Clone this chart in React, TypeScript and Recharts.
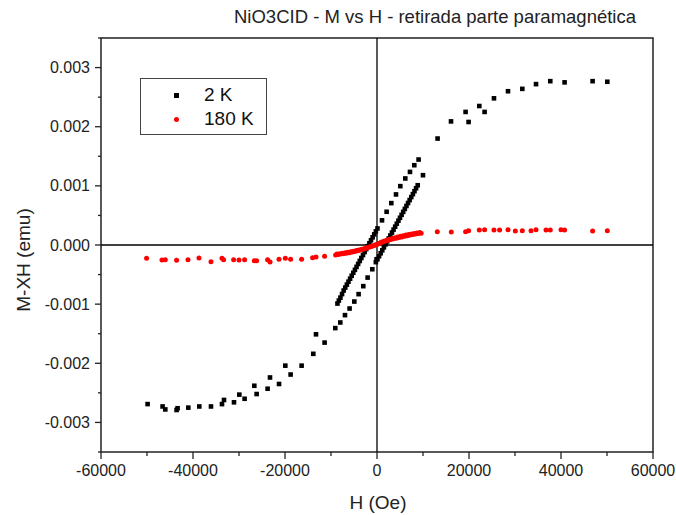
import React from "react";
import {
  ScatterChart,
  Scatter,
  XAxis,
  YAxis,
  ReferenceLine,
  ReferenceArea,
} from "recharts";

const FONT = '"Liberation Sans", Arial, sans-serif';

// tick values
const xTickValues = [-60000, -50000, -40000, -30000, -20000, -10000, 0, 10000, 20000, 30000, 40000, 50000, 60000];
const yTickValues = [-0.0035, -0.003, -0.0025, -0.002, -0.0015, -0.001, -0.0005, 0, 0.0005, 0.001, 0.0015, 0.002, 0.0025, 0.003, 0.0035];

// 2 K as [H (Oe), M (emu)]
const k2OuterPos = [
  [13170, 0.0018], [16090, 0.00209], [19260, 0.00225], [19910, 0.00208], [22240, 0.00235],
  [23390, 0.00225], [25430, 0.00248], [28480, 0.0026], [31590, 0.00264], [34570, 0.00272],
  [37670, 0.00277], [40780, 0.00275], [46870, 0.00277], [50070, 0.00276],
];
const k2UpperSparse = [
  [9040, 0.001445], [8110, 0.001349], [7170, 0.001236], [6150, 0.001125], [5070, 0.000995],
  [4130, 0.000855], [3110, 0.000708], [2090, 0.000562], [1090, 0.000417],
];
const k2UpperDense = [
  [100, 0.00028], [-250, 0.00023], [-600, 0.00018], [-950, 0.00013], [-1300, 0.00008],
  [-1650, 0.00003], [-2000, -0.00002], [-2350, -0.00007], [-2700, -0.00012], [-3050, -0.00017],
  [-3400, -0.00022], [-3750, -0.00027], [-4100, -0.00032], [-4450, -0.00037], [-4800, -0.00042],
  [-5150, -0.00047], [-5500, -0.00052], [-5850, -0.00057], [-6200, -0.00062], [-6550, -0.00067],
  [-6900, -0.00072], [-7250, -0.00077], [-7600, -0.00083], [-7950, -0.00089], [-8300, -0.00094],
  [-8600, -0.00099],
];
const k2OuterNeg = [
  [-11390, -0.00165], [-13260, -0.00151], [-13850, -0.00184], [-16390, -0.00204], [-18780, -0.00219],
  [-19930, -0.00204], [-21300, -0.00235], [-23260, -0.00224], [-23780, -0.00243], [-26170, -0.00252],
  [-26670, -0.00238], [-28780, -0.0026], [-29930, -0.00253], [-31090, -0.00266], [-33260, -0.00262],
  [-33700, -0.00269], [-36090, -0.00273], [-38630, -0.00273], [-41020, -0.00275], [-43350, -0.00276],
  [-43570, -0.00279], [-46020, -0.00278], [-46610, -0.00273], [-49870, -0.00269],
];
const k2LowerSparse = [
  [-9070, -0.001405], [-7980, -0.00131], [-6960, -0.001186], [-5960, -0.001074], [-4930, -0.000956],
  [-4000, -0.000831], [-2980, -0.000696], [-2040, -0.000551], [-1020, -0.00041], [-90, -0.000241],
];
const k2LowerDense = [
  [-250, -0.00029], [100, -0.00024], [450, -0.00019], [800, -0.00014], [1150, -0.00009],
  [1500, -0.00004], [1850, 0.00001], [2200, 0.00006], [2550, 0.00011], [2900, 0.00016],
  [3250, 0.00021], [3600, 0.00026], [3950, 0.00031], [4300, 0.00036], [4650, 0.00041],
  [5000, 0.00046], [5350, 0.00051], [5700, 0.00056], [6050, 0.00061], [6400, 0.00066],
  [6750, 0.00071], [7100, 0.00076], [7450, 0.00081], [7800, 0.00086], [8150, 0.00091],
  [8500, 0.00096], [8850, 0.00101], [10000, 0.00118],
];

// 180 K
const k180OuterNeg = [
  [-50090, -0.000224], [-46740, -0.000253], [-46020, -0.000248], [-43570, -0.000258], [-41090, -0.000248],
  [-38700, -0.000219], [-36090, -0.000282], [-33700, -0.000224], [-33350, -0.000248], [-31170, -0.000248],
  [-30000, -0.000253], [-28780, -0.000248], [-26670, -0.000265], [-26170, -0.000265], [-23780, -0.000248],
  [-23260, -0.000287], [-21300, -0.000241], [-19930, -0.000224], [-18780, -0.000241], [-16390, -0.000241],
  [-14000, -0.000214], [-13260, -0.000202], [-11390, -0.000191],
];
const k180Ascending = [
  [-9000, -0.000168], [-8400, -0.00016], [-7800, -0.000152], [-7200, -0.000146], [-6600, -0.000138],
  [-6000, -0.00013], [-5400, -0.00012], [-4800, -0.000108], [-4200, -0.000096], [-3600, -0.000083],
  [-3000, -0.00007], [-2400, -0.000056], [-1800, -0.00004], [-1200, -0.000024], [-600, -0.000008],
  [0, 0.000008], [600, 0.000028], [1200, 0.000052], [1800, 0.000068], [2400, 0.000082],
  [3000, 0.000095], [3600, 0.000106], [4200, 0.000116], [4800, 0.000126], [5400, 0.000136],
  [6000, 0.000146], [6600, 0.000156], [7200, 0.000168], [7800, 0.000176], [8400, 0.000186],
  [9000, 0.000194], [9600, 0.0002],
];
const k180Descending = [
  [9300, 0.000212], [8700, 0.000204], [8100, 0.000196], [7500, 0.000188], [6900, 0.000178],
  [6300, 0.000168], [5700, 0.000158], [5100, 0.000148], [4500, 0.000136], [3900, 0.000124],
  [3300, 0.00011], [2700, 0.000096], [2100, 0.00008], [1500, 0.000064], [900, 0.000046],
  [300, 0.000026], [-300, 0.000006], [-900, -0.000012], [-1500, -0.000028], [-2100, -0.000044],
  [-2700, -0.000058], [-3300, -0.000072], [-3900, -0.000084], [-4500, -0.000094], [-5100, -0.000104],
  [-5700, -0.000114], [-6300, -0.000122], [-6900, -0.00013], [-7500, -0.000138], [-8100, -0.000146],
  [-8700, -0.000152],
];
const k180OuterPos = [
  [13110, 0.000224], [16150, 0.000219], [19260, 0.000224], [19910, 0.000241], [22240, 0.000253],
  [23390, 0.000258], [25430, 0.000253], [26650, 0.000253], [28480, 0.000258], [30070, 0.000236],
  [31590, 0.000241], [33480, 0.000241], [34570, 0.000258], [36740, 0.000253], [37670, 0.000253],
  [40000, 0.000258], [40780, 0.000253], [46870, 0.000236], [50070, 0.000241],
];

const toPoints = (rows: number[][]) => rows.map(([h, m]) => ({ h, m }));

const data2K = toPoints([
  ...k2OuterPos, ...k2UpperSparse, ...k2UpperDense, ...k2OuterNeg, ...k2LowerSparse, ...k2LowerDense,
]);
const data180K = toPoints([...k180OuterNeg, ...k180Ascending, ...k180Descending, ...k180OuterPos]);

const Square = (props: any) => (
  <rect x={props.cx - 2.3} y={props.cy - 2.3} width={4.6} height={4.6} fill="#000" />
);
const Dot = (props: any) => <circle cx={props.cx} cy={props.cy} r={2.5} fill="#ff0000" />;

const isMajorY = (v: number) => Math.abs(v * 1000 - Math.round(v * 1000)) < 1e-6;

const XTick = (props: any) => {
  const { x, y, payload } = props;
  const major = payload.value % 20000 === 0;
  return (
    <g>
      <line x1={x} y1={y} x2={x} y2={y + (major ? 7 : 4)} stroke="#222" strokeWidth={1.3} />
      {major && (
        <text x={x} y={y + 13} dy="0.71em" textAnchor="middle" fontSize={16} fill="#222" fontFamily={FONT}>
          {payload.value}
        </text>
      )}
    </g>
  );
};

const YTick = (props: any) => {
  const { x, y, payload } = props;
  const major = isMajorY(payload.value);
  return (
    <g>
      <line x1={x} y1={y} x2={x - (major ? 6 : 3)} y2={y} stroke="#222" strokeWidth={1.3} />
      {major && (
        <text x={x - 11} y={y} dy="0.35em" textAnchor="end" fontSize={16} fill="#222" fontFamily={FONT}>
          {payload.value.toFixed(3)}
        </text>
      )}
    </g>
  );
};

export default function App() {
  return (
    <div style={{ position: "absolute", left: 0, top: 0, width: 676, height: 515, background: "#fff", fontFamily: FONT }}>
      <ScatterChart width={676} height={515} margin={{ top: 38, right: 23, bottom: 0, left: 0 }}>
        <XAxis
          type="number"
          dataKey="h"
          domain={[-60000, 60000]}
          ticks={xTickValues}
          interval={0}
          height={63}
          axisLine={false}
          tickLine={false}
          tickSize={0}
          tickMargin={0}
          tick={<XTick />}
          allowDataOverflow
        />
        <YAxis
          type="number"
          dataKey="m"
          domain={[-0.0035, 0.0035]}
          ticks={yTickValues}
          interval={0}
          width={101}
          axisLine={false}
          tickLine={false}
          tickSize={0}
          tickMargin={0}
          tick={<YTick />}
          allowDataOverflow
        />
        <ReferenceArea x1={-60000} x2={60000} y1={-0.0035} y2={0.0035} fill="none" stroke="#222" strokeWidth={1.5} />
        <ReferenceLine x={0} stroke="#000" strokeWidth={1.3} />
        <ReferenceLine y={0} stroke="#000" strokeWidth={1.3} />
        <Scatter name="2 K" data={data2K} shape={<Square />} isAnimationActive={false} />
        <Scatter name="180 K" data={data180K} shape={<Dot />} isAnimationActive={false} />
      </ScatterChart>

      <div style={{ position: "absolute", left: 435, top: 6, transform: "translateX(-50%)", whiteSpace: "nowrap", fontSize: 18.5, color: "#222" }}>
        NiO3CID - M vs H - retirada parte paramagnética
      </div>
      <div style={{ position: "absolute", left: 378, top: 492, transform: "translateX(-50%)", whiteSpace: "nowrap", fontSize: 19, color: "#222" }}>
        H (Oe)
      </div>
      <div style={{ position: "absolute", left: 24, top: 260, transform: "translate(-50%, -50%) rotate(-90deg)", whiteSpace: "nowrap", fontSize: 19, color: "#222" }}>
        M-XH (emu)
      </div>

      <div style={{ position: "absolute", left: 140, top: 78, width: 127, height: 57, border: "1px solid #444", boxSizing: "border-box", background: "#fff", fontSize: 19, color: "#111" }}>
        <div style={{ position: "absolute", left: 33, top: 14, width: 5, height: 5, background: "#000" }} />
        <div style={{ position: "absolute", left: 63, top: 5, lineHeight: "22px" }}>2 K</div>
        <div style={{ position: "absolute", left: 33, top: 38, width: 5, height: 5, borderRadius: "50%", background: "#ff0000" }} />
        <div style={{ position: "absolute", left: 63, top: 29, lineHeight: "22px" }}>180 K</div>
      </div>
    </div>
  );
}
